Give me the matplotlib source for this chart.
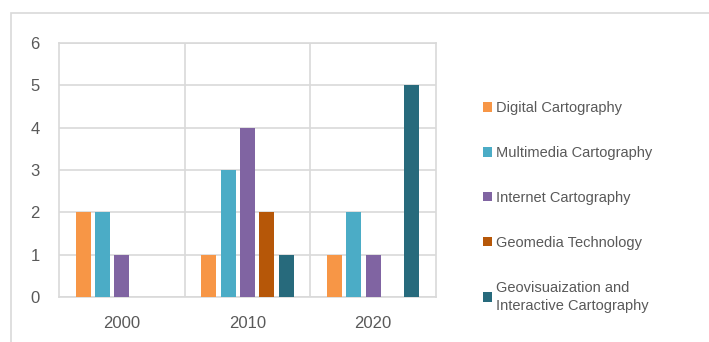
import matplotlib

matplotlib.use("Agg")
import matplotlib.pyplot as plt
import numpy as np
from matplotlib.patches import Rectangle

# data
years = ["2000", "2010", "2020"]
series_names = [
    "Digital Cartography",
    "Multimedia Cartography",
    "Internet Cartography",
    "Geomedia Technology",
    "Geovisuaization and\nInteractive Cartography",
]
digital = [2, 1, 1]
multimedia = [2, 3, 2]
internet = [1, 4, 1]
geomedia = [0, 2, 0]
geovis = [0, 1, 5]
y_ticks = [0, 1, 2, 3, 4, 5, 6]

colors = ["#F79646", "#4BACC6", "#8064A2", "#B65708", "#276A7C"]
grid_color = "#D9D9D9"
text_color = "#595959"

plt.rcParams["font.family"] = ["Liberation Sans", "DejaVu Sans"]

fig = plt.figure(figsize=(7.09, 3.42), dpi=100)
ax = fig.add_axes([59 / 709, 1 - 297 / 342, (436 - 59) / 709, (297 - 43) / 342])

# outer chart border (only top and left visible in the crop)
fig.patches.append(
    Rectangle((11 / 709, -0.05), 1.1, 0.05 + 1 - 13 / 342,
              transform=fig.transFigure, fill=False,
              edgecolor=grid_color, linewidth=1.2, zorder=0)
)

x = np.arange(len(years))
slot = 0.154
width = 0.12
all_values = [digital, multimedia, internet, geomedia, geovis]
for i, (name, vals, col) in enumerate(zip(series_names, all_values, colors)):
    ax.bar(x + (i - 2) * slot, vals, width=width, color=col, label=name, zorder=3)

ax.set_xlim(-0.5, 2.5)
ax.set_ylim(0, 6)
ax.set_xticks(x)
ax.set_xticklabels(years)
ax.set_yticks(y_ticks)
ax.set_xticks([0.5, 1.5], minor=True)
ax.tick_params(axis="both", which="both", length=0, colors=text_color, labelsize=12)
ax.tick_params(axis="y", pad=14)
ax.tick_params(axis="x", pad=14)
ax.grid(True, axis="y", color=grid_color, linewidth=1.2, zorder=0)
ax.grid(True, axis="x", which="minor", color=grid_color, linewidth=1.2, zorder=0)
for side in ax.spines.values():
    side.set_color(grid_color)
    side.set_linewidth(1.2)

leg = ax.legend(
    loc="upper left",
    bbox_to_anchor=(483 / 709, 1 - 101 / 342),
    bbox_transform=fig.transFigure,
    frameon=False,
    fontsize=10.5,
    handlelength=0.62,
    handleheight=0.62,
    handletextpad=0.3,
    labelspacing=2.12,
    borderpad=0,
    borderaxespad=0,
)
for t in leg.get_texts():
    t.set_color(text_color)
    t.set_linespacing(1.35)

fig.savefig("out.png", dpi=100)
